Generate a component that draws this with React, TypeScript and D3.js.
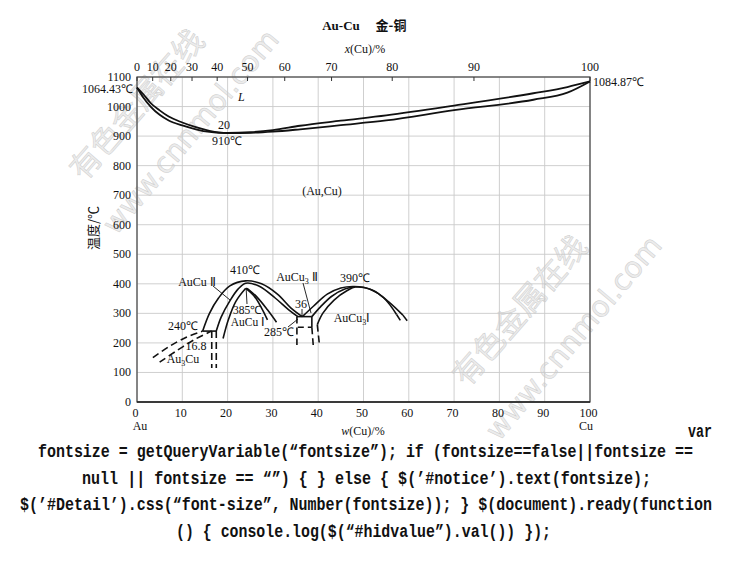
import * as d3 from "d3";

// weight % Cu (bottom axis) and temperature ticks
const wTicks = [0, 10, 20, 30, 40, 50, 60, 70, 80, 90, 100];
const tTicks = [0, 100, 200, 300, 400, 500, 600, 700, 800, 900, 1000, 1100];
// atomic % Cu (top axis)
const xTicks = [0, 10, 20, 30, 40, 50, 60, 70, 80, 90, 100];

// liquidus / solidus
const lsW = [0, 1.5, 3, 5, 7, 10, 13, 16, 20, 25, 30, 36, 45, 55, 70, 87.5, 95, 100];
const liquidusT = [1064.43, 1040, 1012, 987, 966, 946, 930, 918, 911, 913, 920, 935, 952, 970, 1003, 1045, 1066, 1084.87];
const solidusT = [1064.43, 1028, 1000, 972, 953, 936, 923, 914, 910, 911, 915, 923, 937, 953, 988, 1023, 1047, 1084.87];

// ordered phases (w, T)
const au3cuA: [number, number][] = [[3.5, 150], [7, 187], [11, 220], [14.5, 240]];
const au3cuB: [number, number][] = [[5, 135], [9, 176], [13, 214], [16.5, 240]];
const line240: [number, number][] = [[14.5, 240], [17.5, 240]];
const vert168A: [number, number][] = [[16.5, 240], [16.5, 115]];
const vert168B: [number, number][] = [[17.5, 240], [17.5, 115]];

const outerA: [number, number][] = [[14.5, 240], [16, 300], [18, 352], [20.5, 393], [24, 410], [27.5, 400], [31, 365], [34, 318], [36.5, 289]];
const outerB: [number, number][] = [[17.5, 240], [18.6, 288], [20.5, 342], [22.3, 382], [24, 402], [27, 392], [30.5, 352], [33.5, 312], [35.5, 289]];
const innerL: [number, number][] = [[19, 215], [20.2, 280], [21.8, 340], [24, 385]];
const innerR1: [number, number][] = [[24, 385], [25.8, 360], [27.5, 318], [28.8, 278]];
const innerR2: [number, number][] = [[24.3, 385], [26.5, 355], [28.8, 312], [30.8, 270]];

const boxTop: [number, number][] = [[35.3, 289], [38.6, 289]];
const boxMid: [number, number][] = [[35.5, 253], [38.6, 253]];
const boxL: [number, number][] = [[35.3, 289], [35.3, 193]];
const boxR: [number, number][] = [[38.6, 289], [38.6, 253]];
const boxRd: [number, number][] = [[38.6, 253], [38.9, 193]];
const boxR2: [number, number][] = [[39.8, 262], [40.3, 190]];

const cu3A: [number, number][] = [[36.5, 289], [39, 325], [42, 365], [45, 386], [48, 391], [51.5, 382], [54.5, 352], [57.3, 296]];
const cu3B: [number, number][] = [[38.6, 289], [40.5, 322], [43, 358], [46, 383], [48, 390]];
const cu3C: [number, number][] = [[39.8, 262], [41, 300], [43.5, 345], [46.5, 378], [48.2, 389], [52, 378], [55.5, 340], [58.7, 294]];
const cu3DashA: [number, number][] = [[57.3, 296], [58.3, 272]];
const cu3DashB: [number, number][] = [[58.7, 294], [59.8, 272]];

const code = [
  "fontsize = getQueryVariable(\u201cfontsize\u201d); if (fontsize==false||fontsize ==",
  "null || fontsize == \u201c\u201d) { } else { $(\u2019#notice\u2019).text(fontsize);",
  "$(\u2019#Detail\u2019).css(\u201cfont-size\u201d, Number(fontsize)); } $(document).ready(function",
  "() { console.log($(\u201c#hidvalue\u201d).val()) });",
];
const codeX = [38, 82, 20, 176];
const codeW = [655, 569, 692, 375];

const W = 730;
const H = 579;

const x = d3.scaleLinear().domain([0, 100]).range([137, 590]);
const y = d3.scaleLinear().domain([0, 1100]).range([402, 77]);

// atomic % -> weight %
const toW = (a: number) => (100 * a * 63.546) / (a * 63.546 + (100 - a) * 196.967);

const smooth = d3
  .line<[number, number]>()
  .x((d) => x(d[0]))
  .y((d) => y(d[1]))
  .curve(d3.curveCatmullRom.alpha(0.5));
const straight = d3
  .line<[number, number]>()
  .x((d) => x(d[0]))
  .y((d) => y(d[1]));
const mono = d3
  .line<[number, number]>()
  .x((d) => x(d[0]))
  .y((d) => y(d[1]))
  .curve(d3.curveMonotoneX);

const serif = "'Liberation Serif', 'Times New Roman', serif";
const cjk = "'Noto Sans CJK SC', sans-serif";

const Watermark = ({ dx, dy }: { dx: number; dy: number }) => (
  <g transform={`translate(${dx},${dy})`} fill="#ececec" stroke="#cdcdcd" strokeWidth={0.5}>
    <text transform="translate(84,182) rotate(-49)" fontFamily={cjk} fontSize={31}>
      有色金属在线
    </text>
    <text transform="translate(116,236) rotate(-50)" fontFamily="'DejaVu Sans', sans-serif" fontSize={29}>
      www.cnnmol.com
    </text>
  </g>
);

export default function App() {
  const liquidus = lsW.map((w, i) => [w, liquidusT[i]] as [number, number]);
  const solidus = lsW.map((w, i) => [w, solidusT[i]] as [number, number]);
  const solid = [outerA, outerB, innerL, innerR1, innerR2, cu3A, cu3B, cu3C];
  const dashed = [au3cuA, au3cuB, vert168A, vert168B, cu3DashA, cu3DashB, boxRd, boxR2];
  const lbl = { fontFamily: serif, fontSize: 12, fill: "#111" };
  const sm = { fontFamily: serif, fontSize: 11.5, fill: "#111" };

  return (
    <svg width={W} height={H} style={{ position: "absolute", left: 0, top: 0, background: "#fff" }}>
      <Watermark dx={0} dy={0} />
      <Watermark dx={383} dy={206} />

      {/* grid */}
      {wTicks.map((t) => (
        <line key={"gv" + t} x1={x(t)} x2={x(t)} y1={y(0)} y2={y(1100)} stroke="#c9c9c9" strokeWidth={0.9} />
      ))}
      {tTicks.map((t) => (
        <line key={"gh" + t} x1={x(0)} x2={x(100)} y1={y(t)} y2={y(t)} stroke="#c9c9c9" strokeWidth={0.9} />
      ))}
      <rect x={x(0)} y={y(1100)} width={x(100) - x(0)} height={y(0) - y(1100)} fill="none" stroke="#444" strokeWidth={1.2} />
      <line x1={x(0)} x2={x(100)} y1={y(0)} y2={y(0)} stroke="#222" strokeWidth={1.4} />

      {/* top axis, atomic % */}
      {xTicks.map((t) => (
        <g key={"xt" + t}>
          <line x1={x(toW(t))} x2={x(toW(t))} y1={y(1100)} y2={y(1100) + 4} stroke="#333" strokeWidth={1} />
          <text x={x(toW(t))} y={71} textAnchor="middle" {...lbl}>
            {t}
          </text>
        </g>
      ))}
      <text x={365} y={53} textAnchor="middle" {...lbl}>
        <tspan fontStyle="italic">x</tspan>(Cu)/%
      </text>

      {/* left axis */}
      {tTicks.map((t) => (
        <text key={"yt" + t} x={131} y={y(t) + 4} textAnchor="end" {...lbl}>
          {t}
        </text>
      ))}
      <text transform="translate(98,228) rotate(-90)" textAnchor="middle" fontFamily={cjk} fontSize={13} fill="#111">
        温度/℃
      </text>

      {/* bottom axis */}
      {wTicks.map((t) => (
        <text key={"wt" + t} x={x(t) - 1.5} y={417} textAnchor="middle" {...lbl}>
          {t}
        </text>
      ))}
      <text x={x(0) + 3} y={430} textAnchor="middle" {...lbl}>Au</text>
      <text x={x(100) - 4} y={430} textAnchor="middle" {...lbl}>Cu</text>
      <text x={363} y={435} textAnchor="middle" {...lbl}>
        <tspan fontStyle="italic">w</tspan>(Cu)/%
      </text>

      {/* title */}
      <text x={341} y={30} textAnchor="middle" fontFamily={serif} fontWeight="bold" fontSize={13} fill="#111">Au-Cu</text>
      <text x={391} y={30} textAnchor="middle" fontFamily={cjk} fontWeight="bold" fontSize={13} fill="#111">金-铜</text>

      {/* liquidus / solidus */}
      <path d={mono(liquidus) || ""} fill="none" stroke="#111" strokeWidth={1.8} />
      <path d={mono(solidus) || ""} fill="none" stroke="#111" strokeWidth={1.8} />
      <text x={133} y={y(1064.43) + 5} textAnchor="end" {...lbl}>1064.43℃</text>
      <text x={593} y={y(1084.87) + 5} {...lbl}>1084.87℃</text>
      <text x={238} y={101} fontStyle="italic" {...lbl}>L</text>
      <text x={224} y={129} textAnchor="middle" {...lbl}>20</text>
      <text x={227} y={145} textAnchor="middle" {...lbl}>910℃</text>
      <text x={322} y={195} textAnchor="middle" {...lbl}>(Au,Cu)</text>

      {/* ordered phases */}
      {solid.map((d, i) => (
        <path key={"s" + i} d={smooth(d) || ""} fill="none" stroke="#111" strokeWidth={1.6} />
      ))}
      {[line240, boxTop, boxL, boxR].map((d, i) => (
        <path key={"b" + i} d={straight(d) || ""} fill="none" stroke="#111" strokeWidth={1.6} strokeDasharray={i === 2 ? "7,4" : undefined} />
      ))}
      <path d={straight(boxMid) || ""} fill="none" stroke="#111" strokeWidth={1.6} strokeDasharray="6,4" />
      {dashed.map((d, i) => (
        <path key={"d" + i} d={smooth(d) || ""} fill="none" stroke="#111" strokeWidth={1.6} strokeDasharray="7,4" />
      ))}

      {/* leader lines */}
      <line x1={213} y1={286} x2={230} y2={300} stroke="#111" strokeWidth={0.9} />
      <line x1={247} y1={304} x2={x(24.1)} y2={y(382)} stroke="#111" strokeWidth={0.9} />
      <line x1={302} y1={309} x2={302} y2={y(291)} stroke="#111" strokeWidth={0.9} />
      <line x1={303} y1={283} x2={311} y2={313} stroke="#111" strokeWidth={0.9} />
      <line x1={288} y1={327} x2={298} y2={319} stroke="#111" strokeWidth={0.9} />

      <text x={245} y={274} textAnchor="middle" {...lbl}>410℃</text>
      <text x={197} y={286} textAnchor="middle" {...lbl}>AuCu Ⅱ</text>
      <text x={247} y={314} textAnchor="middle" {...sm}>385℃</text>
      <text x={248} y={326} textAnchor="middle" {...sm}>AuCu Ⅰ</text>
      <text x={183} y={330} textAnchor="middle" {...lbl}>240℃</text>
      <text x={196} y={350} textAnchor="middle" {...lbl}>16.8</text>
      <text x={183} y={363} textAnchor="middle" {...lbl}>
        Au<tspan fontSize={8} dy={3}>3</tspan><tspan dy={-3}>Cu</tspan>
      </text>
      <text x={297} y={281} textAnchor="middle" {...lbl}>
        AuCu<tspan fontSize={8} dy={3}>3</tspan><tspan dy={-3}> Ⅱ</tspan>
      </text>
      <text x={301} y={308} textAnchor="middle" {...lbl}>36</text>
      <text x={279} y={336} textAnchor="middle" {...lbl}>285℃</text>
      <text x={355} y={282} textAnchor="middle" {...lbl}>390℃</text>
      <text x={352} y={322} textAnchor="middle" {...lbl}>
        AuCu<tspan fontSize={8} dy={3}>3</tspan><tspan dy={-3}>Ⅰ</tspan>
      </text>

      {/* page text below the image */}
      <text x={688} y={437} textLength={24} lengthAdjust="spacingAndGlyphs" fontFamily="'Liberation Mono', monospace" fontWeight="bold" fontSize={18} fill="#111">
        var
      </text>
      {code.map((c, i) => (
        <text key={"c" + i} x={codeX[i]} y={457 + i * 26.5} textLength={codeW[i]} lengthAdjust="spacingAndGlyphs" fontFamily="'Liberation Mono', monospace" fontWeight="bold" fontSize={18} fill="#111" xmlSpace="preserve">
          {c}
        </text>
      ))}
    </svg>
  );
}
